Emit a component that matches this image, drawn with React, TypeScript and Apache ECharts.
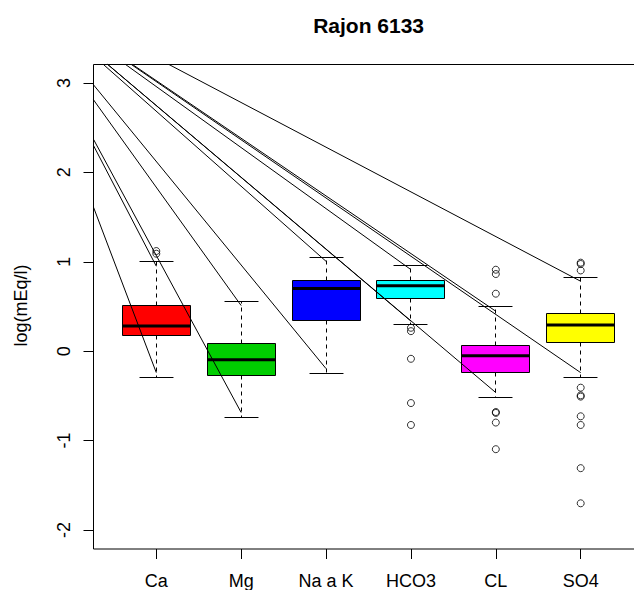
import React, { useEffect, useRef } from 'react';
import * as echarts from 'echarts';

const chartTitle = 'Rajon 6133';
const yAxisTitle = 'log(mEq/l)';
const categories = ['Ca', 'Mg', 'Na a K', 'HCO3', 'CL', 'SO4'];
const yTicks = [-2, -1, 0, 1, 2, 3];

// box statistics
const whiskerLow = [-0.293, -0.739, -0.245, 0.298, -0.516, -0.293];
const q1 = [0.172, -0.271, 0.346, 0.591, -0.234, 0.097];
const medians = [0.283, -0.096, 0.702, 0.732, -0.051, 0.294];
const q3 = [0.506, 0.086, 0.788, 0.788, 0.06, 0.42];
const whiskerHigh = [1.0, 0.554, 1.048, 0.963, 0.495, 0.825];

const outliers = [
  [1.09, 1.12],
  [],
  [],
  [0.262, 0.224, -0.085, -0.58, -0.825],
  [0.911, 0.863, 0.643, -0.68, -0.69, -0.798, -1.096],
  [0.99, 0.975, 0.903, -0.408, -0.494, -0.508, -0.728, -0.825, -1.308, -1.701],
];

// straight lines that run from one far point to (near) every whisker end
const lineOrigin = [-0.76, 4.16];
const lineEndHigh = [0.95, 0.51, 1.005, 0.912, 0.447, 0.782];
const lineEndLow = [-0.24, -0.686, -0.195, 0.336, -0.463, -0.24];

const boxColors = ['#FF0000', '#00CD00', '#0000FF', '#00FFFF', '#FF00FF', '#FFFF00'];

const FONT = "'Liberation Sans', Arial, Helvetica, sans-serif";

export default function App() {
  const ref = useRef<HTMLDivElement>(null);

  useEffect(() => {
    if (!ref.current) return;
    const chart = echarts.init(ref.current, null, { renderer: 'svg' });

    const boxData = categories.map((_, i) => [i + 1, whiskerLow[i], q1[i], medians[i], q3[i], whiskerHigh[i]]);
    const outlierData = outliers.flatMap((vals, i) => vals.map((v) => [i + 1, v]));
    const lineData = categories.flatMap((_, i) => [
      [i + 1, lineEndHigh[i]],
      [i + 1, lineEndLow[i]],
    ]);
    const crisp = (v: number) => Math.round(v - 0.5) + 0.5;

    const renderBox = (params: any, api: any) => {
      const x = api.value(0);
      const lo = api.coord([x, api.value(1)]);
      const a = api.coord([x, api.value(2)]);
      const m = api.coord([x, api.value(3)]);
      const b = api.coord([x, api.value(4)]);
      const hi = api.coord([x, api.value(5)]);
      const w = api.size([0.8, 0])[0];
      const sw = w / 2;
      const cx = crisp(lo[0]);
      const yLo = crisp(lo[1]);
      const yHi = crisp(hi[1]);
      const yA = crisp(a[1]);
      const yB = crisp(b[1]);
      const x0 = crisp(cx - w / 2);
      const x1 = crisp(cx + w / 2);
      const lineStyle = { stroke: '#000', lineWidth: 1 };
      return {
        type: 'group',
        children: [
          { type: 'line', shape: { x1: cx, y1: yB, x2: cx, y2: yHi }, style: { ...lineStyle, lineDash: [4, 4] } },
          { type: 'line', shape: { x1: cx, y1: yA, x2: cx, y2: yLo }, style: { ...lineStyle, lineDash: [4, 4] } },
          { type: 'line', shape: { x1: cx - sw / 2, y1: yHi, x2: cx + sw / 2, y2: yHi }, style: lineStyle },
          { type: 'line', shape: { x1: cx - sw / 2, y1: yLo, x2: cx + sw / 2, y2: yLo }, style: lineStyle },
          {
            type: 'rect',
            shape: { x: x0, y: yB, width: x1 - x0, height: yA - yB },
            style: { fill: boxColors[params.dataIndex], stroke: '#000', lineWidth: 1 },
          },
          { type: 'line', shape: { x1: x0, y1: m[1], x2: x1, y2: m[1] }, style: { stroke: '#000', lineWidth: 3 } },
        ],
      };
    };

    const renderLine = (params: any, api: any) => {
      const end = api.coord([api.value(0), api.value(1)]);
      const start = api.coord(lineOrigin);
      const cs = params.coordSys;
      let t = 0;
      if (start[0] < cs.x) t = Math.max(t, (cs.x - start[0]) / (end[0] - start[0]));
      if (start[1] < cs.y) t = Math.max(t, (cs.y - start[1]) / (end[1] - start[1]));
      const sx = start[0] + t * (end[0] - start[0]);
      const sy = start[1] + t * (end[1] - start[1]);
      return {
        type: 'line',
        shape: { x1: sx, y1: sy, x2: end[0], y2: end[1] },
        style: { stroke: '#000', lineWidth: 1 },
      };
    };

    chart.setOption({
      animation: false,
      backgroundColor: '#fff',
      grid: {
        left: 93.5,
        top: 64.5,
        width: 550,
        height: 485.5,
        show: true,
        borderColor: '#000',
        borderWidth: 1,
        backgroundColor: 'transparent',
      },
      xAxis: {
        type: 'value',
        min: 0.26,
        max: 6.74,
        axisLine: { show: false, onZero: false },
        splitLine: { show: false },
        axisTick: {
          show: true,
          customValues: categories.map((_, i) => i + 1),
          length: 10,
          lineStyle: { color: '#000', width: 1 },
        },
        axisLabel: {
          customValues: categories.map((_, i) => i + 1),
          formatter: (v: number) => categories[Math.round(v) - 1] ?? '',
          fontSize: 18,
          color: '#000',
          fontFamily: FONT,
          margin: 23,
        },
      },
      yAxis: {
        type: 'value',
        min: -2.212,
        max: 3.206,
        axisLine: { show: false, onZero: false },
        splitLine: { show: false },
        axisTick: {
          show: true,
          customValues: yTicks,
          length: 10,
          lineStyle: { color: '#000', width: 1 },
        },
        axisLabel: {
          customValues: yTicks,
          formatter: (v: number) => String(v),
          rotate: 90,
          fontSize: 18,
          color: '#000',
          fontFamily: FONT,
          margin: 21,
        },
      },
      graphic: [
        {
          type: 'text',
          x: 368.6,
          y: 25.5,
          style: {
            text: chartTitle,
            fill: '#000',
            font: `bold 21px ${FONT}`,
            textAlign: 'center',
            textVerticalAlign: 'middle',
          },
        },
        {
          type: 'text',
          x: 20.7,
          y: 305.5,
          rotation: Math.PI / 2,
          style: {
            text: yAxisTitle,
            fill: '#000',
            font: `18px ${FONT}`,
            textAlign: 'center',
            textVerticalAlign: 'middle',
          },
        },
      ],
      series: [
        {
          type: 'custom',
          renderItem: renderBox,
          data: boxData,
          encode: { x: 0, y: [1, 2, 3, 4, 5] },
          z: 2,
        },
        {
          type: 'scatter',
          data: outlierData,
          symbol: 'circle',
          symbolSize: 7,
          itemStyle: { color: 'rgba(0,0,0,0)', borderColor: '#000', borderWidth: 1 },
          z: 3,
        },
        {
          type: 'custom',
          renderItem: renderLine,
          data: lineData,
          encode: { x: 0, y: 1 },
          z: 4,
        },
      ],
    });

    return () => chart.dispose();
  }, []);

  return (
    <div style={{ position: 'fixed', left: 0, top: 0, width: 634, height: 590, overflow: 'hidden', background: '#fff' }}>
      <div ref={ref} style={{ width: 660, height: 590 }} />
    </div>
  );
}
